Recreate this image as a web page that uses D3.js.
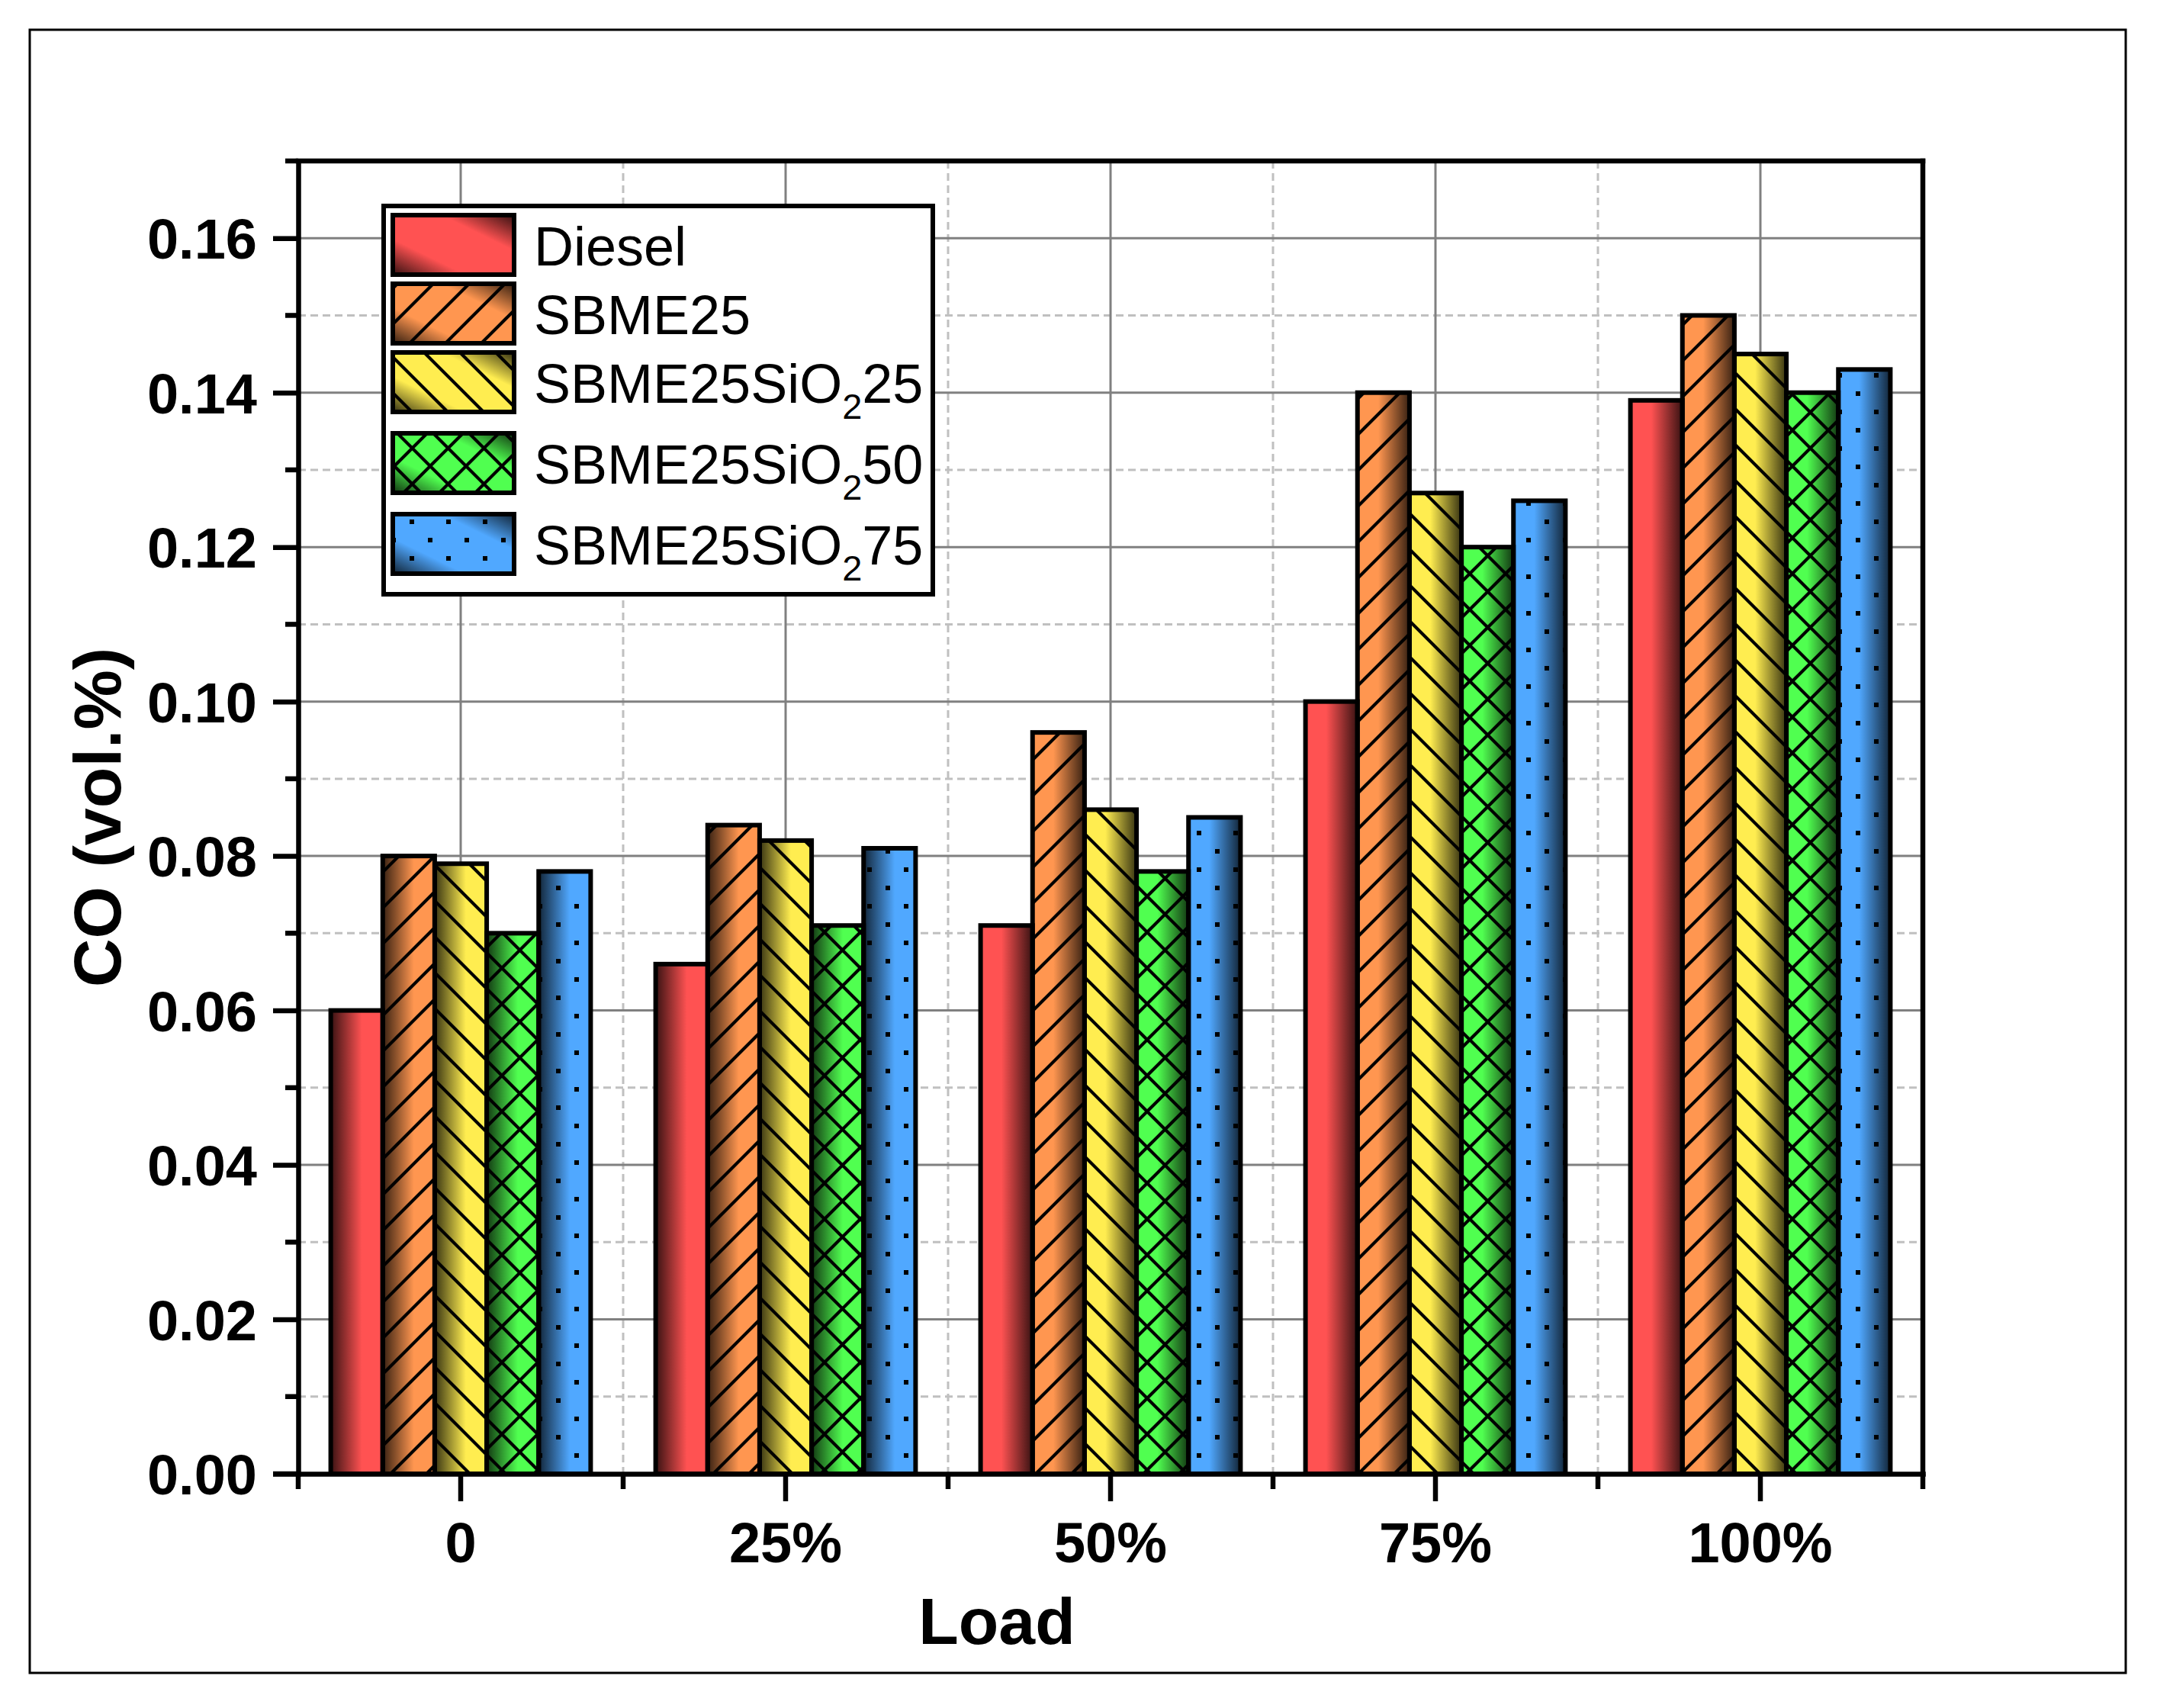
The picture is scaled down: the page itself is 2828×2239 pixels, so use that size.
<!DOCTYPE html>
<html>
<head>
<meta charset="utf-8">
<script src="https://cdn.jsdelivr.net/npm/d3@7"></script>
<style>
  html, body { margin: 0; padding: 0; background: #fff; }
  svg { display: block; }
  text { font-family: "Liberation Sans", Arial, sans-serif; }
</style>
</head>
<body>
<script>
// ---------------- DATA ----------------
const categories = ["0", "25%", "50%", "75%", "100%"];
const seriesNames = ["Diesel", "SBME25", "SBME25SiO_{2}25", "SBME25SiO_{2}50", "SBME25SiO_{2}75"];
const diesel   = [0.060, 0.066, 0.071, 0.100, 0.139];
const sbme25   = [0.080, 0.084, 0.096, 0.140, 0.150];
const sio2_25  = [0.079, 0.082, 0.086, 0.127, 0.145];
const sio2_50  = [0.070, 0.071, 0.078, 0.120, 0.140];
const sio2_75  = [0.078, 0.081, 0.085, 0.126, 0.143];
const seriesValues = [diesel, sbme25, sio2_25, sio2_50, sio2_75];
const yMajorTicks = [0, 0.02, 0.04, 0.06, 0.08, 0.10, 0.12, 0.14, 0.16];
const yMinorTicks = [0.01, 0.03, 0.05, 0.07, 0.09, 0.11, 0.13, 0.15, 0.17];
const yTitle = "CO (vol.%)";
const xTitle = "Load";

// ---------------- STYLE ----------------
const W = 2828, H = 2239;
const colors = ["#ff5252", "#ff9650", "#ffed50", "#50ff50", "#50a8ff"];
const patterns = ["none", "fwd", "back", "cross", "dots"];
const darkSide = ["left", "left", "right", "right", "right"]; // gradient shading per load group
const plot = { left: 391, right: 2521, top: 211, bottom: 1932 };

const svg = d3.select("body").append("svg")
  .attr("width", W).attr("height", H).attr("viewBox", `0 0 ${W} ${H}`);
const defs = svg.append("defs");

function darken(c, k) {
  const r = d3.rgb(c);
  return d3.rgb(r.r * k, r.g * k, r.b * k).formatHex();
}

// horizontal gradients for bars
colors.forEach((c, i) => {
  ["left", "right"].forEach(side => {
    const g = defs.append("linearGradient")
      .attr("id", `g${i}${side}`)
      .attr("x1", 0).attr("y1", 0).attr("x2", 1).attr("y2", 0);
    const stops = side === "right"
      ? [[0, c], [0.4, c], [1, darken(c, 0.22)]]
      : [[0, darken(c, 0.22)], [0.6, c], [1, c]];
    stops.forEach(s => g.append("stop").attr("offset", s[0]).attr("stop-color", s[1]));
  });
  // diagonal gradient for legend swatches
  const lg = defs.append("linearGradient")
    .attr("id", `lg${i}`)
    .attr("x1", 0).attr("y1", 1).attr("x2", 1).attr("y2", 0);
  [[0, darken(c, 0.2)], [0.3, c], [0.7, c], [1, darken(c, 0.2)]]
    .forEach(s => lg.append("stop").attr("offset", s[0]).attr("stop-color", s[1]));
});

// hatch patterns
const P = 47;
function hatch(id, d) {
  defs.append("pattern").attr("id", id).attr("patternUnits", "userSpaceOnUse")
    .attr("width", P).attr("height", P)
    .append("path").attr("d", d).attr("stroke", "#000").attr("stroke-width", 4.2).attr("fill", "none");
}
const fwdD = `M-6,6 L6,-6 M0,${P} L${P},0 M${P-6},${P+6} L${P+6},${P-6}`;
const backD = `M-6,${P-6} L6,${P+6} M0,0 L${P},${P} M${P-6},-6 L${P+6},6`;
hatch("fwd", fwdD);
hatch("back", backD);
hatch("cross", fwdD + " " + backD);
const dp = defs.append("pattern").attr("id", "dots").attr("patternUnits", "userSpaceOnUse")
  .attr("width", 48).attr("height", 48);
dp.append("rect").attr("x", 9).attr("y", 9).attr("width", 6).attr("height", 6).attr("fill", "#000");
dp.append("rect").attr("x", 33).attr("y", 33).attr("width", 6).attr("height", 6).attr("fill", "#000");

// outer frame
svg.append("rect").attr("x", 39).attr("y", 39).attr("width", 2748).attr("height", 2154)
  .attr("fill", "none").attr("stroke", "#000").attr("stroke-width", 3);

// ---------------- SCALES ----------------
const x = d3.scaleBand().domain(categories).range([plot.left, plot.right])
  .paddingInner(0.2).paddingOuter(0.1);
const xs = d3.scaleBand().domain(d3.range(seriesNames.length)).range([0, x.bandwidth()]).padding(0);
const y = d3.scaleLinear().domain([0, 0.17]).range([plot.bottom, plot.top]);

const boundaries = categories.map(c => x(c) - x.step() * x.paddingInner() / 2)
  .concat([x(categories[categories.length - 1]) + x.bandwidth() + x.step() * x.paddingInner() / 2]);

// ---------------- GRID ----------------
const grid = svg.append("g");
grid.selectAll(".hmin").data(yMinorTicks.filter(v => v < 0.17)).enter().append("line")
  .attr("x1", plot.left).attr("x2", plot.right).attr("y1", d => y(d)).attr("y2", d => y(d))
  .attr("stroke", "#c0c0c0").attr("stroke-width", 3).attr("stroke-dasharray", "10,6");
grid.selectAll(".vmin").data(boundaries.slice(1, -1)).enter().append("line")
  .attr("y1", plot.top).attr("y2", plot.bottom).attr("x1", d => d).attr("x2", d => d)
  .attr("stroke", "#c0c0c0").attr("stroke-width", 3).attr("stroke-dasharray", "10,6");
grid.selectAll(".hmaj").data(yMajorTicks.filter(v => v > 0)).enter().append("line")
  .attr("x1", plot.left).attr("x2", plot.right).attr("y1", d => y(d)).attr("y2", d => y(d))
  .attr("stroke", "#808080").attr("stroke-width", 3);
grid.selectAll(".vmaj").data(categories).enter().append("line")
  .attr("y1", plot.top).attr("y2", plot.bottom)
  .attr("x1", d => x(d) + x.bandwidth() / 2).attr("x2", d => x(d) + x.bandwidth() / 2)
  .attr("stroke", "#808080").attr("stroke-width", 3);

// ---------------- BARS ----------------
const barData = [];
categories.forEach((c, gi) => {
  seriesValues.forEach((vals, si) => {
    barData.push({ c, gi, si, v: vals[gi] });
  });
});
const bars = svg.append("g");
const bx = d => x(d.c) + xs(d.si);
bars.selectAll(".fill").data(barData).enter().append("rect")
  .attr("x", bx).attr("width", xs.bandwidth())
  .attr("y", d => y(d.v)).attr("height", d => y(0) - y(d.v))
  .attr("fill", d => `url(#g${d.si}${darkSide[d.gi]})`);
bars.selectAll(".pat").data(barData.filter(d => patterns[d.si] !== "none")).enter().append("rect")
  .attr("x", bx).attr("width", xs.bandwidth())
  .attr("y", d => y(d.v)).attr("height", d => y(0) - y(d.v))
  .attr("fill", d => `url(#${patterns[d.si]})`);
bars.selectAll(".edge").data(barData).enter().append("rect")
  .attr("x", bx).attr("width", xs.bandwidth())
  .attr("y", d => y(d.v)).attr("height", d => y(0) - y(d.v))
  .attr("fill", "none").attr("stroke", "#000").attr("stroke-width", 6);

// ---------------- AXES ----------------
const axisW = 6.5;
// top & right frame lines
svg.append("line").attr("x1", plot.left).attr("x2", plot.right).attr("y1", plot.top).attr("y2", plot.top)
  .attr("stroke", "#000").attr("stroke-width", axisW).attr("stroke-linecap", "square");
svg.append("line").attr("x1", plot.right).attr("x2", plot.right).attr("y1", plot.top).attr("y2", plot.bottom)
  .attr("stroke", "#000").attr("stroke-width", axisW).attr("stroke-linecap", "square");

// left axis
const yAxis = d3.axisLeft(y).tickValues(yMajorTicks).tickSize(33).tickSizeOuter(0)
  .tickPadding(21).tickFormat(d3.format(".2f"));
const gy = svg.append("g").attr("transform", `translate(${plot.left},0)`).call(yAxis);
gy.select(".domain").attr("stroke-width", axisW).attr("stroke-linecap", "square");
gy.selectAll(".tick line").attr("stroke-width", axisW);
gy.selectAll(".tick text").attr("font-size", 74).attr("font-weight", "bold")
  .attr("font-family", "Liberation Sans, Arial, sans-serif").attr("fill", "#000").attr("dy", "0.36em");
gy.selectAll(".minor").data(yMinorTicks).enter().append("line")
  .attr("x1", -17).attr("x2", 0).attr("y1", d => y(d)).attr("y2", d => y(d))
  .attr("stroke", "#000").attr("stroke-width", axisW);

// bottom axis
const xAxis = d3.axisBottom(x).tickSize(36).tickSizeOuter(0).tickPadding(0);
const gx = svg.append("g").attr("transform", `translate(0,${plot.bottom})`).call(xAxis);
gx.select(".domain").attr("stroke-width", axisW).attr("stroke-linecap", "square");
gx.selectAll(".tick line").attr("stroke-width", axisW);
gx.selectAll(".tick text").attr("font-size", 74).attr("font-weight", "bold")
  .attr("font-family", "Liberation Sans, Arial, sans-serif").attr("fill", "#000")
  .attr("y", 116).attr("dy", 0);
gx.selectAll(".minor").data(boundaries).enter().append("line")
  .attr("x1", d => d).attr("x2", d => d).attr("y1", 0).attr("y2", 20)
  .attr("stroke", "#000").attr("stroke-width", axisW);
// extend x-axis line under y-axis 0 tick
gx.append("line").attr("x1", plot.left - 33).attr("x2", plot.left).attr("y1", 0).attr("y2", 0)
  .attr("stroke", "#000").attr("stroke-width", axisW);

// titles
svg.append("text").text(xTitle).attr("x", 1307).attr("y", 2155)
  .attr("text-anchor", "middle").attr("font-size", 86).attr("font-weight", "bold");
svg.append("text").text(yTitle)
  .attr("transform", `translate(158,${(plot.top + plot.bottom) / 2}) rotate(-90)`)
  .attr("text-anchor", "middle").attr("font-size", 88).attr("font-weight", "bold");

// ---------------- LEGEND ----------------
const leg = svg.append("g");
leg.append("rect").attr("x", 503).attr("y", 270).attr("width", 720).attr("height", 509)
  .attr("fill", "#fff").attr("stroke", "#000").attr("stroke-width", 6);
let ly = 279;
seriesNames.forEach((name, i) => {
  const hasSub = name.includes("_{");
  const sw = leg.append("g");
  sw.append("rect").attr("x", 515).attr("y", ly + 3).attr("width", 159).attr("height", 78)
    .attr("fill", `url(#lg${i})`);
  if (patterns[i] !== "none") {
    sw.append("rect").attr("x", 515).attr("y", ly + 3).attr("width", 159).attr("height", 78)
      .attr("fill", `url(#${patterns[i]})`);
  }
  sw.append("rect").attr("x", 515).attr("y", ly + 3).attr("width", 159).attr("height", 78)
    .attr("fill", "none").attr("stroke", "#000").attr("stroke-width", 6);
  const t = leg.append("text").attr("x", 700).attr("y", ly + 42 + 27).attr("font-size", 72);
  const m = name.match(/^(.*)_\{(.*)\}(.*)$/);
  if (m) {
    t.append("tspan").text(m[1]);
    t.append("tspan").text(m[2]).attr("font-size", 47).attr("dy", 21);
    t.append("tspan").text(m[3]).attr("dy", -21);
  } else {
    t.text(name);
  }
  ly += hasSub ? 106 : 90;
});
</script>
</body>
</html>
